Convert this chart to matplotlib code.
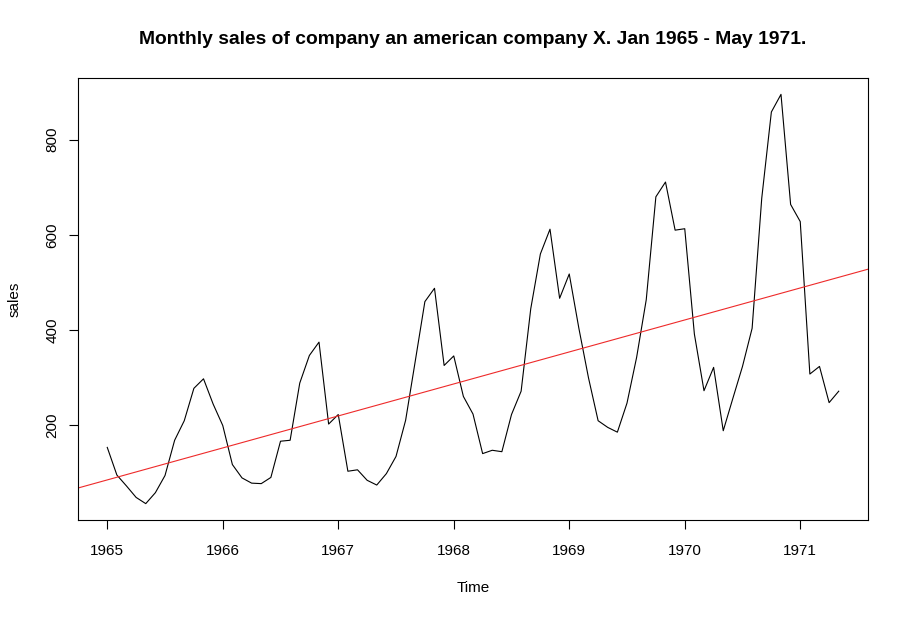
import numpy as np
import matplotlib
matplotlib.use("Agg")
import matplotlib.pyplot as plt

plt.rcParams["font.family"] = ["Liberation Sans", "DejaVu Sans"]

# monthly sales, Jan 1965 - May 1971
sales = [154, 96, 73, 49, 36, 59, 95, 169, 210, 278, 298, 245,
         200, 118, 90, 79, 78, 91, 167, 169, 289, 347, 375, 203,
         223, 104, 107, 85, 75, 99, 135, 211, 335, 460, 488, 326,
         346, 261, 224, 141, 148, 145, 223, 272, 445, 560, 612, 467,
         518, 404, 300, 210, 196, 186, 247, 343, 464, 680, 711, 610,
         613, 392, 273, 322, 189, 257, 324, 404, 677, 858, 895, 664,
         628, 308, 324, 248, 272]
start_year = 1965
x_ticks = [1965, 1966, 1967, 1968, 1969, 1970, 1971]
y_ticks = [200, 400, 600, 800]

time = start_year + np.arange(len(sales)) / 12.0
sales = np.array(sales)

# linear trend, like abline(lm(sales ~ time))
slope, intercept = np.polyfit(time, sales, 1)

fig = plt.figure(figsize=(9.09, 6.18), dpi=100)
ax = fig.add_axes([78 / 909, 1 - 520 / 618, 790 / 909, 442 / 618])

ax.plot(time, sales, color="black", lw=0.8)

# R-style 4% padding on both axes
xpad = (time.max() - time.min()) * 0.04
ypad = (sales.max() - sales.min()) * 0.04
xlim = (time.min() - xpad, time.max() + xpad)
ax.set_xlim(xlim)
ax.set_ylim(sales.min() - ypad, sales.max() + ypad)

xl = np.array(xlim)
ax.plot(xl, intercept + slope * xl, color="#ee2a2a", lw=0.8)

ax.set_xticks(x_ticks)
ax.set_xticklabels([str(v) for v in x_ticks])
ax.set_yticks(y_ticks)
ax.set_yticklabels([str(v) for v in y_ticks], rotation=90, va="center")
ax.tick_params(length=6.5, width=0.8, labelsize=11)
ax.tick_params(axis="x", pad=10.5)
ax.tick_params(axis="y", pad=6.8)
for s in ax.spines.values():
    s.set_linewidth(0.8)

ax.set_xlabel("Time", fontsize=11, labelpad=17)
ax.set_ylabel("sales", fontsize=11, labelpad=17)
fig.suptitle("Monthly sales of company an american company X. Jan 1965 - May 1971.",
             x=(78 + 868) / 2 / 909, y=1 - 40 / 618, va="center",
             fontsize=13.9, fontweight="bold")

fig.savefig("out.png", dpi=100)
